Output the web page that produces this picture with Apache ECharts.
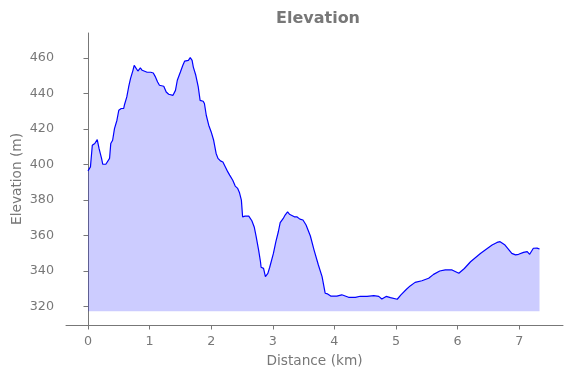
<!DOCTYPE html>
<html>
<head>
<meta charset="utf-8">
<title>Elevation</title>
<script src="https://cdn.jsdelivr.net/npm/echarts@6/dist/echarts.min.js"></script>
<style>
  html, body { margin: 0; padding: 0; background: #fff; }
  #chart-elevation { width: 571px; height: 378px; }
</style>
</head>
<body>
<div id="chart-elevation"></div>
<script>
// ============================================================
// Elevation profile (filled area under the line)
// ============================================================

var CHART_TITLE = 'Elevation';
var X_NAME = 'Distance (km)';
var Y_NAME = 'Elevation (m)';

var X_TICKS = [0, 1, 2, 3, 4, 5, 6, 7];
var Y_TICKS = [320, 340, 360, 380, 400, 420, 440, 460];

// distance along the route (km)
var distanceKm = [
  0.00, 0.04, 0.07, 0.11, 0.13, 0.15, 0.18, 0.22, 0.24, 0.26, 0.29, 0.31, 0.35, 0.37, 0.40,
  0.43, 0.47, 0.50, 0.54, 0.58, 0.59, 0.63, 0.66, 0.69, 0.73, 0.75, 0.78, 0.81, 0.83, 0.85,
  0.88, 0.90, 0.96, 1.02, 1.06, 1.09, 1.13, 1.16, 1.23, 1.27, 1.31, 1.38, 1.42, 1.45, 1.50,
  1.54, 1.57, 1.60, 1.63, 1.66, 1.69, 1.71, 1.75, 1.79, 1.82, 1.87, 1.89, 1.92, 1.96, 2.00,
  2.04, 2.08, 2.11, 2.15, 2.19, 2.23, 2.27, 2.30, 2.33, 2.35, 2.39, 2.43, 2.46, 2.49, 2.51,
  2.55, 2.61, 2.62, 2.66, 2.70, 2.73, 2.77, 2.80, 2.81, 2.85, 2.88, 2.92, 2.95, 2.98, 3.01,
  3.05, 3.09, 3.12, 3.17, 3.20, 3.24, 3.27, 3.31, 3.35, 3.39, 3.44, 3.49, 3.54, 3.61, 3.67,
  3.74, 3.80, 3.85, 3.89, 3.94, 4.04, 4.12, 4.23, 4.34, 4.42, 4.53, 4.64, 4.72, 4.77, 4.84,
  4.91, 5.02, 5.08, 5.17, 5.23, 5.31, 5.42, 5.53, 5.61, 5.71, 5.80, 5.91, 6.02, 6.11, 6.21,
  6.37, 6.47, 6.56, 6.64, 6.69, 6.77, 6.88, 6.94, 6.99, 7.07, 7.13, 7.17, 7.20, 7.23, 7.26,
  7.29, 7.31, 7.33
];

// elevation at each distance (m)
var elevationM = [
  396.5, 398.7, 410.9, 411.9, 412.8, 414.1, 409.0, 403.5, 400.2, 399.7, 400.2, 399.1, 403.5, 411.9, 413.7,
  420.3, 425.0, 430.6, 431.6, 431.6, 433.4, 438.1, 443.7, 448.4, 453.1, 455.9, 455.9, 452.7, 453.1, 454.4,
  453.1, 452.0, 452.0, 452.0, 451.6, 449.7, 446.5, 444.7, 444.1, 440.9, 439.6, 439.0, 441.8, 447.5, 452.1,
  455.9, 458.3, 457.2, 458.7, 460.2, 458.7, 454.9, 450.3, 443.7, 436.2, 435.7, 434.4, 427.8, 422.2, 418.4,
  413.7, 406.3, 403.5, 402.1, 401.5, 398.7, 395.9, 394.1, 394.4, 391.2, 387.9, 386.6, 384.1, 380.0, 370.6,
  371.0, 371.0, 370.6, 368.4, 364.7, 359.4, 351.9, 345.3, 342.2, 341.6, 336.9, 338.8, 342.2, 342.5, 350.0,
  356.6, 362.2, 367.3, 369.7, 371.6, 373.4, 372.1, 371.4, 370.6, 370.6, 369.3, 368.8, 366.0, 359.8, 351.9,
  343.5, 336.9, 327.6, 327.2, 326.0, 326.0, 326.7, 325.3, 325.3, 325.9, 325.8, 326.2, 325.8, 324.3, 325.8,
  325.1, 324.2, 326.7, 329.8, 331.7, 333.7, 334.6, 336.0, 338.2, 340.1, 340.7, 340.7, 338.8, 341.5, 345.3,
  350.0, 352.5, 354.7, 356.2, 356.6, 354.7, 350.0, 349.2, 349.5, 350.6, 351.0, 349.5, 350.5, 352.9, 353.8,
  353.0, 353.6, 352.5
];

var FILL_BASE = 317.5;

var TEXT_COLOR = '#777777';
var AXIS_COLOR = '#777777';
var LINE_COLOR = '#0000ff';
var FILL_COLOR = 'rgba(0, 0, 255, 0.2)';
var FONT = 'DejaVu Sans';

// ============================================================
// Render
// ============================================================

function buildSeriesData() {
  return distanceKm.map(function(d, i) { return [d, elevationM[i]]; });
}

function renderChart() {
  var chart = echarts.init(document.getElementById('chart-elevation'), null, { renderer: 'canvas' });

  chart.setOption({
    animation: false,
    textStyle: { fontFamily: FONT },
    title: {
      text: CHART_TITLE,
      left: 271,
      top: 6,
      textStyle: { fontFamily: FONT, fontSize: 16, fontWeight: 'bold', color: TEXT_COLOR },
    },
    grid: { left: 66, right: 8, top: 33, bottom: 53, containLabel: false, outerBoundsMode: 'none' },
    xAxis: {
      type: 'value',
      min: -0.357,
      max: 7.711,
      name: X_NAME,
      nameLocation: 'middle',
      nameGap: 29,
      nameMoveOverlap: false,
      nameTextStyle: { fontFamily: FONT, fontSize: 13.7, color: TEXT_COLOR },
      axisLine: { show: true, lineStyle: { color: AXIS_COLOR, width: 1 } },
      axisTick: { show: true, length: 4.5, customValues: X_TICKS, lineStyle: { color: AXIS_COLOR } },
      axisLabel: { customValues: X_TICKS, margin: 10, fontSize: 12.7, color: TEXT_COLOR, fontFamily: FONT },
      splitLine: { show: false },
    },
    yAxis: {
      type: 'value',
      min: 309.7,
      max: 474.1,
      name: Y_NAME,
      nameLocation: 'middle',
      nameGap: 42,
      nameMoveOverlap: false,
      nameTextStyle: { fontFamily: FONT, fontSize: 13.7, color: TEXT_COLOR },
      axisLine: { show: true, lineStyle: { color: AXIS_COLOR, width: 1 } },
      axisTick: { show: true, length: 4.5, customValues: Y_TICKS, lineStyle: { color: AXIS_COLOR } },
      axisLabel: { customValues: Y_TICKS, margin: 12, fontSize: 12.7, color: TEXT_COLOR, fontFamily: FONT },
      splitLine: { show: false },
    },
    series: [{
      name: 'Elevation',
      type: 'line',
      data: buildSeriesData(),
      showSymbol: false,
      smooth: false,
      lineStyle: { color: LINE_COLOR, width: 1.2 },
      itemStyle: { color: LINE_COLOR },
      areaStyle: { color: FILL_COLOR, origin: FILL_BASE, opacity: 1 },
      z: 2,
    }],
  });
  return chart;
}

renderChart();
</script>
</body>
</html>
